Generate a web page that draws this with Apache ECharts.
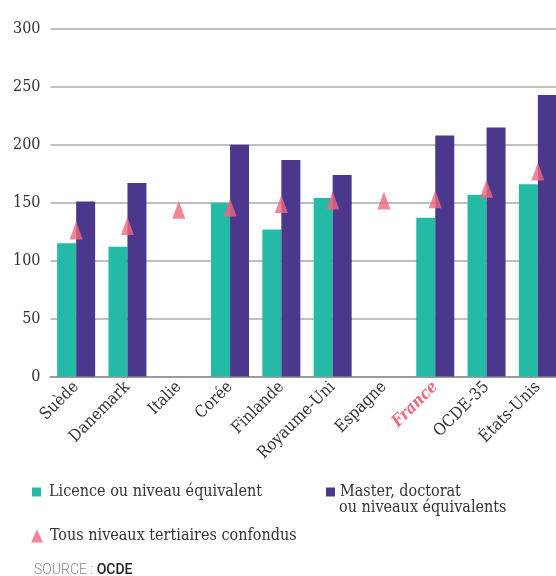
<!DOCTYPE html>
<html>
<head>
<meta charset="utf-8">
<script src="https://cdn.jsdelivr.net/npm/echarts@6/dist/echarts.min.js"></script>
<style>
html, body { margin: 0; padding: 0; background: #fff; }
#chart { width: 556px; height: 576px; }
</style>
</head>
<body>
<div id="chart"></div>
<script>
// Pays comparés
const categories = ['Suède', 'Danemark', 'Italie', 'Corée', 'Finlande', 'Royaume-Uni', 'Espagne', 'France', 'OCDE-35', 'États-Unis'];
// Licence ou niveau équivalent
const licence = [115, 112, null, 150, 127, 154, null, 137, 157, 166];
// Master, doctorat ou niveaux équivalents
const master = [151, 167, null, 200, 187, 174, null, 208, 215, 243];
// Tous niveaux tertiaires confondus
const tous = [126, 130, 144, 146, 149, 152, 152, 153, 162, 177];
// Graduations de l'axe vertical
const yTicks = [0, 50, 100, 150, 200, 250, 300];

const serif = '"DejaVu Serif Condensed", "DejaVu Serif", serif';
const TEAL = '#23bba5';
const PURPLE = '#4b388c';
const PINK = '#f0667f';

const nameLicence = 'Licence ou niveau équivalent';
const nameMaster = 'Master, doctorat ou niveaux équivalents';
const nameTous = 'Tous niveaux tertiaires confondus';

const legendText = { color: '#333', fontFamily: serif, fontSize: 16, padding: [0, 0, 0, 3] };

const chart = echarts.init(document.getElementById('chart'), null, { renderer: 'canvas' });

chart.setOption({
  animation: false,
  grid: {
    left: 50.5, width: 513, top: 29, bottom: 199.5,
    containLabel: false, outerBoundsMode: 'none'
  },
  xAxis: {
    type: 'category',
    data: categories,
    axisLine: { show: true, lineStyle: { color: '#9a9a9a', width: 2 } },
    axisTick: { show: false },
    axisLabel: {
      rotate: 45,
      margin: 8,
      interval: 0,
      color: '#333',
      fontFamily: serif,
      fontSize: 16.5,
      formatter: v => v === 'France' ? '{fr|' + v + '}' : v,
      rich: {
        fr: { color: PINK, fontStyle: 'italic', fontWeight: 'bold', fontFamily: serif, fontSize: 16.5 }
      }
    }
  },
  yAxis: {
    type: 'value',
    min: yTicks[0],
    max: yTicks[yTicks.length - 1],
    interval: yTicks[1] - yTicks[0],
    axisLine: { show: false },
    axisTick: { show: false },
    axisLabel: { color: '#333', fontFamily: serif, fontSize: 16, margin: 10 },
    splitLine: { lineStyle: { color: '#aaaaaa', width: 1.5 } }
  },
  legend: [
    {
      data: [nameLicence], left: 27, top: 479, icon: 'rect', itemWidth: 9, itemHeight: 9,
      textStyle: legendText
    },
    {
      data: [nameMaster], left: 321, top: 479, icon: 'rect', itemWidth: 9, itemHeight: 9,
      formatter: () => 'Master, doctorat',
      textStyle: Object.assign({}, legendText, { padding: [0, 0, 0, 0] })
    },
    {
      data: [nameTous], left: 26, top: 523, icon: 'triangle', itemWidth: 12, itemHeight: 13,
      textStyle: Object.assign({}, legendText, { padding: [0, 0, 0, 2] })
    }
  ],
  graphic: [
    {
      type: 'text', left: 339, top: 500,
      style: { text: 'ou niveaux équivalents', fill: '#333', font: '16px ' + serif }
    },
    {
      type: 'text', left: 34, top: 563,
      style: {
        text: '{s|SOURCE : }{o|OCDE}',
        rich: {
          s: { fill: '#888', fontFamily: 'Roboto, sans-serif', fontSize: 14, fontWeight: 300 },
          o: { fill: '#222', fontFamily: 'Roboto, sans-serif', fontSize: 14, fontWeight: 500 }
        }
      }
    }
  ],
  series: [
    {
      name: nameLicence, type: 'bar', data: licence, barWidth: 19, barGap: '0%',
      itemStyle: { color: TEAL }
    },
    {
      name: nameMaster, type: 'bar', data: master, barWidth: 19,
      itemStyle: { color: PURPLE }
    },
    {
      name: nameTous, type: 'scatter', data: tous, symbol: 'triangle', symbolSize: [13, 18],
      itemStyle: { color: PINK }, z: 5
    }
  ]
});
</script>
</body>
</html>
